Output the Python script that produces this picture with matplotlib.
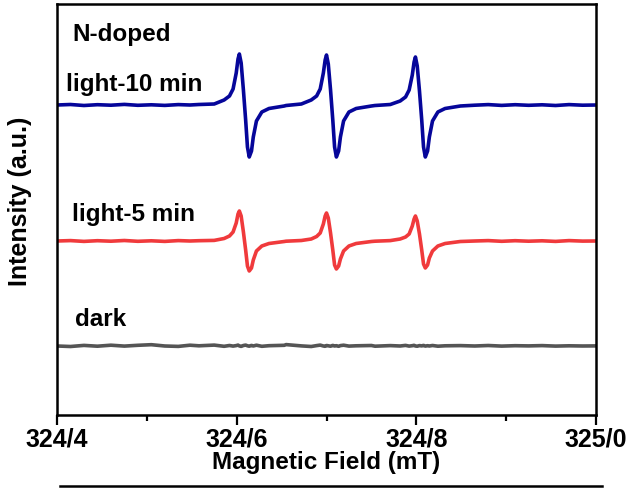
import matplotlib
matplotlib.use("Agg")
import matplotlib.pyplot as plt
from matplotlib.lines import Line2D

# ---------------- data ----------------
field = [
    324.400, 324.415, 324.430, 324.445, 324.460, 324.475, 324.490, 324.505, 324.520, 324.535, 324.548,
    324.558, 324.575, 324.586, 324.592, 324.596, 324.5995, 324.6015, 324.603, 324.605, 324.6075,
    324.610, 324.612, 324.614, 324.6165, 324.6185, 324.622, 324.628, 324.636, 324.653,
    324.655, 324.672, 324.683, 324.689, 324.693, 324.6965, 324.6985, 324.700, 324.702, 324.7045,
    324.707, 324.709, 324.711, 324.7135, 324.7155, 324.719, 324.725, 324.733, 324.750,
    324.754, 324.771, 324.782, 324.788, 324.792, 324.7955, 324.7975, 324.799, 324.801, 324.8035,
    324.806, 324.808, 324.810, 324.8125, 324.8145, 324.818, 324.824, 324.832, 324.849,
    324.865, 324.880, 324.895, 324.910, 324.925, 324.940, 324.955, 324.970, 324.985, 325.000,
]

light10 = [
    310.0, 310.5, 309.5, 310.3, 309.8, 310.6, 309.7, 310.2, 309.6, 310.4, 310.0,
    310.5, 311.0, 315.0, 319.0, 326.0, 342.0, 356.0, 361.0, 352.0, 325.0,
    295.0, 268.0, 258.0, 264.0, 278.0, 294.0, 303.0, 306.5, 309.0,
    309.5, 311.0, 315.0, 319.0, 326.0, 342.0, 355.0, 360.0, 351.0, 325.0,
    295.0, 268.0, 258.0, 264.0, 278.0, 294.0, 303.0, 306.5, 309.0,
    309.5, 310.5, 314.0, 318.0, 325.0, 340.0, 353.0, 358.0, 349.0, 324.0,
    295.0, 268.0, 258.0, 264.0, 278.0, 294.0, 303.0, 306.5, 309.0,
    309.8, 310.4, 309.6, 310.3, 309.7, 310.2, 309.5, 310.4, 309.8, 310.0,
]

light5 = [
    174.0, 174.4, 173.6, 174.3, 173.8, 174.5, 173.7, 174.2, 173.6, 174.4, 174.0,
    174.3, 174.6, 176.5, 179.0, 183.0, 192.0, 201.0, 204.0, 199.0, 183.0,
    165.0, 149.0, 144.0, 147.0, 155.0, 164.0, 169.0, 171.5, 173.5,
    173.8, 174.5, 176.0, 178.5, 182.0, 191.0, 199.0, 202.0, 197.0, 182.0,
    165.0, 150.0, 146.0, 149.0, 156.0, 164.0, 169.0, 171.5, 173.5,
    173.8, 174.4, 176.0, 178.0, 181.0, 189.0, 196.0, 199.0, 194.0, 181.0,
    165.0, 151.0, 147.0, 150.0, 157.0, 164.0, 169.0, 171.5, 173.5,
    174.0, 174.4, 173.7, 174.3, 173.8, 174.2, 173.6, 174.4, 173.9, 174.0,
]

dark = [
    69.0, 68.5, 69.6, 68.8, 69.8, 68.9, 69.7, 70.3, 69.0, 68.6, 69.8,
    69.2, 69.9, 68.7, 69.5, 68.9, 69.4, 69.9, 69.1, 68.6, 69.5,
    69.9, 69.2, 68.8, 69.6, 69.0, 69.8, 68.7, 69.3, 69.7,
    70.4, 69.1, 68.5, 69.4, 69.9, 69.0, 68.7, 69.5, 69.2, 68.8,
    69.6, 69.0, 69.3, 68.7, 69.4, 69.8, 68.9, 69.2, 69.5,
    68.8, 69.4, 69.0, 69.6, 68.9, 69.3, 69.7, 69.0, 68.8, 69.4,
    69.1, 69.6, 68.9, 69.3, 69.0, 69.5, 68.8, 69.2, 69.4,
    69.0, 69.5, 68.9, 69.3, 69.1, 69.4, 68.9, 69.2, 69.0, 69.1,
]

xticks = [324.4, 324.6, 324.8, 325.0]
xtick_labels = ["324/4", "324/6", "324/8", "325/0"]
minor_ticks = [324.5, 324.7, 324.9]

# ---------------- figure ----------------
W, H = 632, 488
fig = plt.figure(figsize=(W / 100, H / 100), dpi=100)
ax = fig.add_axes([57 / W, 1 - 415 / H, 539 / W, 411 / H])

FONT = "Liberation Sans"
lw = 2.6
ax.plot(field, light10, color="#06069a", lw=lw, solid_joinstyle="round")
ax.plot(field, light5, color="#f03a3c", lw=lw, solid_joinstyle="round")
ax.plot(field, dark, color="#555555", lw=lw, solid_joinstyle="round")

ax.set_xlim(324.4, 325.0)
ax.set_ylim(0, 411)
ax.set_yticks([])
ax.set_xticks(xticks)
ax.set_xticklabels(xtick_labels)
ax.set_xticks(minor_ticks, minor=True)
ax.tick_params(axis="x", which="major", direction="out", length=7, width=1.6,
               labelsize=18, pad=2)
ax.tick_params(axis="x", which="minor", direction="out", length=4, width=1.6)
for lab in ax.get_xticklabels():
    lab.set_fontfamily(FONT)
    lab.set_fontweight("bold")
for sp in ax.spines.values():
    sp.set_linewidth(1.8)
    sp.set_color("black")

ax.set_xlabel("Magnetic Field (mT)", fontsize=17.5, fontweight="bold",
              fontfamily=FONT, labelpad=0)
fig.text(20 / W, 1 - 201 / H, "Intensity (a.u.)", rotation=90, fontsize=18,
         fontweight="bold", fontfamily=FONT, ha="center", va="center")

def label(px, py, s):
    fig.text(px / W, 1 - py / H, s, fontsize=17.5, fontweight="bold",
             fontfamily=FONT, ha="left", va="center")

label(72, 34, "N-doped")
label(66, 84, "light-10 min")
label(72, 214, "light-5 min")
label(75, 319, "dark")

fig.add_artist(Line2D([60 / W, 602 / W], [1 - 486 / H, 1 - 486 / H],
                      transform=fig.transFigure, color="black", lw=1.8))

fig.savefig("out.png", dpi=100)
